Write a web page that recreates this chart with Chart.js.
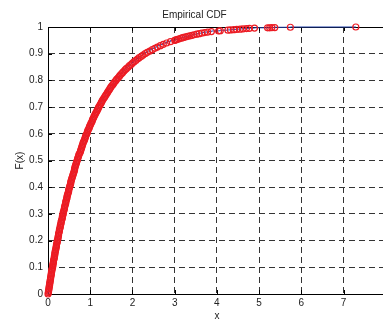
<!DOCTYPE html>
<html><head><meta charset="utf-8">
<script src="https://cdn.jsdelivr.net/npm/chart.js@4"></script>
<style>
html,body{margin:0;padding:0;background:#fff;overflow:hidden;width:383px;height:321px}
#wrap{position:absolute;left:0;top:0;width:391px;height:321px}
</style>
</head><body><div id="wrap"><canvas id="c"></canvas></div>
<script>
// Empirical CDF samples (dense part)
const cdfX = [0.00,0.01,0.01,0.02,0.02,0.03,0.03,0.04,0.04,0.05,0.05,0.06,0.06,0.07,0.07,0.08,0.08,0.09,0.09,0.10,
0.11,0.11,0.12,0.12,0.13,0.13,0.14,0.15,0.15,0.16,0.16,0.17,0.17,0.18,0.19,0.19,0.20,0.20,0.21,0.22,
0.22,0.23,0.24,0.24,0.25,0.25,0.26,0.27,0.27,0.28,0.29,0.29,0.30,0.31,0.31,0.32,0.33,0.34,0.34,0.35,
0.36,0.36,0.37,0.38,0.39,0.39,0.40,0.41,0.42,0.42,0.43,0.44,0.45,0.45,0.46,0.47,0.48,0.49,0.49,0.50,
0.51,0.52,0.53,0.54,0.54,0.55,0.56,0.57,0.58,0.59,0.60,0.61,0.62,0.63,0.63,0.64,0.65,0.66,0.67,0.68,
0.69,0.70,0.71,0.72,0.73,0.74,0.76,0.77,0.78,0.79,0.80,0.81,0.82,0.83,0.84,0.86,0.87,0.88,0.89,0.90,
0.92,0.93,0.94,0.95,0.97,0.98,0.99,1.01,1.02,1.04,1.05,1.06,1.08,1.09,1.11,1.12,1.14,1.16,1.17,1.19,
1.20,1.22,1.24,1.26,1.27,1.29,1.31,1.33,1.35,1.37,1.39,1.41,1.43,1.45,1.47,1.49,1.51,1.54,1.56,1.58,
1.61,1.63,1.66,1.69,1.71,1.74,1.77,1.80,1.83,1.86,1.90,1.93,1.97,2.00,2.04,2.08,2.12,2.16,2.21,2.25,
2.30,2.35,2.41,2.47,2.53,2.59,2.66,2.73,2.81,2.90,3.00];
const cdfY = [0.000,0.005,0.010,0.015,0.020,0.025,0.030,0.035,0.040,0.045,0.050,0.055,0.060,0.065,0.070,0.075,0.080,0.085,0.090,0.095,
0.100,0.105,0.110,0.115,0.120,0.125,0.130,0.135,0.140,0.145,0.150,0.155,0.160,0.165,0.170,0.175,0.180,0.185,0.190,0.195,
0.200,0.205,0.210,0.215,0.220,0.225,0.230,0.235,0.240,0.245,0.250,0.255,0.260,0.265,0.270,0.275,0.280,0.285,0.290,0.295,
0.300,0.305,0.310,0.315,0.320,0.325,0.330,0.335,0.340,0.345,0.350,0.355,0.360,0.365,0.370,0.375,0.380,0.385,0.390,0.395,
0.400,0.405,0.410,0.415,0.420,0.425,0.430,0.435,0.440,0.445,0.450,0.455,0.460,0.465,0.470,0.475,0.480,0.485,0.490,0.495,
0.500,0.505,0.510,0.515,0.520,0.525,0.530,0.535,0.540,0.545,0.550,0.555,0.560,0.565,0.570,0.575,0.580,0.585,0.590,0.595,
0.600,0.605,0.610,0.615,0.620,0.625,0.630,0.635,0.640,0.645,0.650,0.655,0.660,0.665,0.670,0.675,0.680,0.685,0.690,0.695,
0.700,0.705,0.710,0.715,0.720,0.725,0.730,0.735,0.740,0.745,0.750,0.755,0.760,0.765,0.770,0.775,0.780,0.785,0.790,0.795,
0.800,0.805,0.810,0.815,0.820,0.825,0.830,0.835,0.840,0.845,0.850,0.855,0.860,0.865,0.870,0.875,0.880,0.885,0.890,0.895,
0.900,0.905,0.910,0.915,0.920,0.925,0.930,0.935,0.940,0.945,0.950];
// sparse upper tail
const tailX = [3.02,3.05,3.09,3.13,3.17,3.21,3.26,3.31,3.36,3.41,3.46,3.52,3.58,3.64,3.71,3.78,3.87,4.04,4.08,4.26,4.32,4.40,4.47,4.55,4.62,4.70,4.77,4.89,5.20,5.25,5.30,5.37,5.74,7.29];
const tailY = [0.951,0.953,0.955,0.957,0.959,0.961,0.963,0.965,0.967,0.969,0.971,0.973,0.975,0.977,0.979,0.981,0.983,0.985,0.986,0.988,0.989,0.990,0.991,0.992,0.993,0.994,0.995,0.996,0.997,0.997,0.998,0.998,0.999,1.000];

const xTicks = [0,1,2,3,4,5,6,7,8];
const yTicks = [0,0.1,0.2,0.3,0.4,0.5,0.6,0.7,0.8,0.9,1];
const xLabels = ['0','1','2','3','4','5','6','7',''];
const yLabels = ['0','0.1','0.2','0.3','0.4','0.5','0.6','0.7','0.8','0.9','1'];

const allX = cdfX.concat(tailX), allY = cdfY.concat(tailY);
const pts = allX.map((x,i)=>({x:x,y:allY[i]}));

const FONT = {family:'"Liberation Sans", Arial, Helvetica, sans-serif', size:10, weight:'normal'};
const TXT = '#222';

const frame = {
  id:'frame',
  beforeDatasetsDraw(chart){
    const {ctx, chartArea:a, scales:{x,y}} = chart;
    ctx.save();
    ctx.strokeStyle = '#000'; ctx.lineWidth = 1; ctx.setLineDash([]);
    ctx.beginPath();
    ctx.moveTo(a.left, Math.round(a.top)+0.5); ctx.lineTo(a.right+5, Math.round(a.top)+0.5);
    const L = 4;
    xTicks.forEach(v=>{
      const px = Math.round(x.getPixelForValue(v))+0.5;
      ctx.moveTo(px, a.bottom); ctx.lineTo(px, a.bottom-L);
      ctx.moveTo(px, a.top); ctx.lineTo(px, a.top+L);
    });
    yTicks.forEach(v=>{
      const py = Math.round(y.getPixelForValue(v))+0.5;
      ctx.moveTo(a.left, py); ctx.lineTo(a.left+L, py);
    });
    ctx.stroke();
    ctx.restore();
  }
};

new Chart(document.getElementById('c'), {
  type:'scatter',
  data:{datasets:[
    {label:'samples', data:pts, showLine:false, pointStyle:'circle', pointRadius:3, pointBorderWidth:1.2,
     borderColor:'#ec1c24', backgroundColor:'rgba(0,0,0,0)', clip:false, order:0},
    {label:'ecdf', type:'line', data:pts, showLine:true, stepped:'after', borderColor:'#1f3fa6', borderWidth:1,
     pointRadius:0, fill:false, clip:false, order:1}
  ]},
  options:{
    responsive:true, maintainAspectRatio:false, animation:false,
    layout:{padding:{left:0,right:2,top:0,bottom:0}},
    plugins:{
      legend:{display:false}, tooltip:{enabled:false},
      title:{display:true, text:'Empirical CDF', color:TXT, font:FONT, padding:{top:9,bottom:6}}
    },
    scales:{
      x:{type:'linear', min:0, max:8,
        afterBuildTicks:s=>{s.ticks = xTicks.map(v=>({value:v}));},
        afterFit:s=>{s.height = 27;},
        ticks:{color:TXT, font:FONT, padding:3, maxRotation:0, autoSkip:false,
          callback:(v,i)=>xLabels[i]},
        grid:{color:c=>(c.tick && (c.tick.value===0)) ? 'rgba(0,0,0,0)' : '#333', lineWidth:1, drawTicks:false},
        border:{display:true, color:'#000', width:1, dash:[6,4]},
        title:{display:true, text:'x', color:TXT, font:{...FONT, lineHeight:1}, padding:{top:0,bottom:0}}
      },
      y:{type:'linear', min:0, max:1,
        afterBuildTicks:s=>{s.ticks = yTicks.map(v=>({value:v}));},
        afterFit:s=>{s.width = 48;},
        ticks:{color:TXT, font:FONT, padding:5, autoSkip:false, callback:(v,i)=>yLabels[i]},
        grid:{color:c=>(c.tick && (c.tick.value===0 || c.tick.value===1)) ? 'rgba(0,0,0,0)' : '#333', lineWidth:1, drawTicks:false},
        border:{display:true, color:'#000', width:1, dash:[6,4]},
        title:{display:true, text:'F(x)', color:TXT, font:{...FONT, lineHeight:1.2}, padding:{top:14,bottom:0}}
      }
    }
  },
  plugins:[frame]
});
</script>
</body></html>
